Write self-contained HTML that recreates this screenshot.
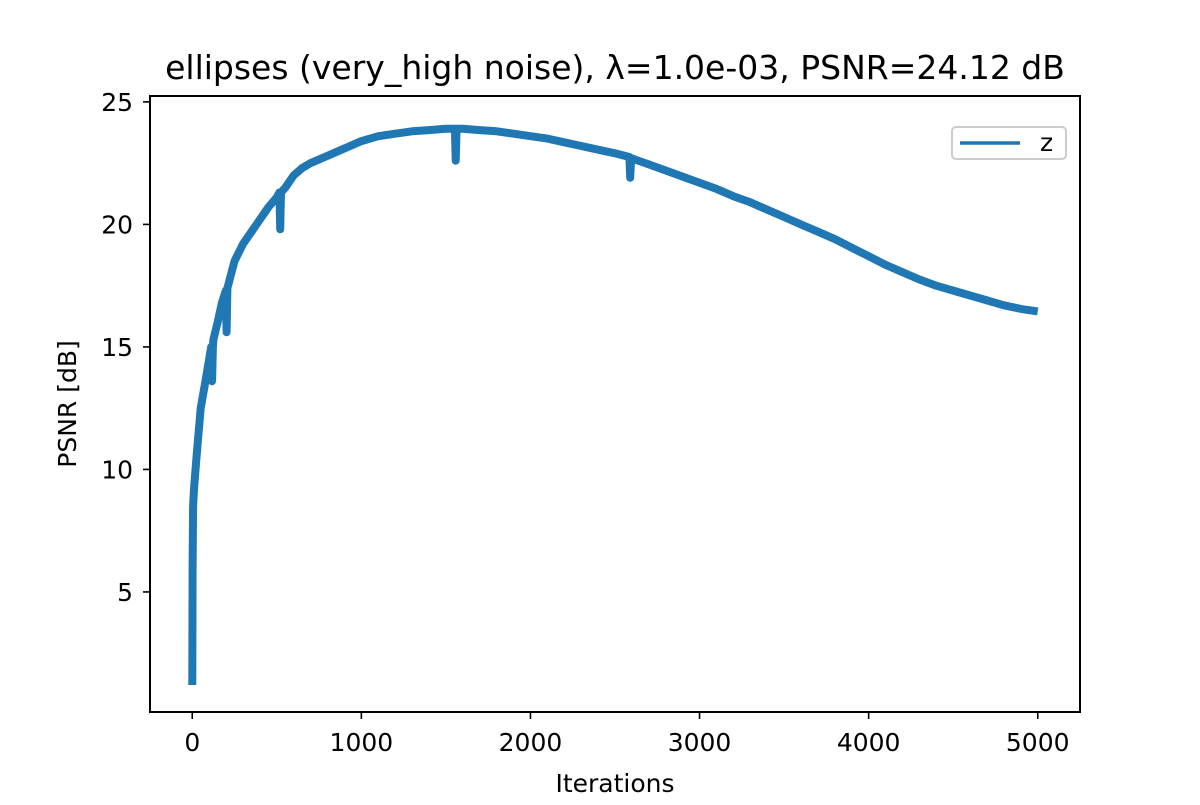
<!DOCTYPE html>
<html><head><meta charset="utf-8"><style>
body{margin:0;background:#fff;}
svg text{font-family:"DejaVu Sans","Liberation Sans",sans-serif;fill:#000;}
</style></head><body>
<svg width="1200" height="800" viewBox="0 0 1200 800" id="chart">
<rect width="1200" height="800" fill="#fff"/>
<text x="615" y="79" font-size="33" text-anchor="middle">ellipses (very_high noise), λ=1.0e-03, PSNR=24.12 dB</text>
<g id="plot"></g>
<rect x="150" y="96" width="930" height="616" fill="none" stroke="#000" stroke-width="2"/>
<text x="615" y="792" font-size="25" text-anchor="middle">Iterations</text>
<text transform="translate(76,404) rotate(-90)" font-size="25" text-anchor="middle">PSNR [dB]</text>
<g>
<rect x="952" y="127" width="114" height="32" rx="4" fill="#fff" stroke="#ccc" stroke-width="2"/>
<line x1="960" y1="143" x2="1020" y2="143" stroke="#1f77b4" stroke-width="3.5"/>
<text x="1040" y="151" font-size="25">z</text>
</g>
</svg>
<script>
const iters=[0,2,5,10,25,50,75,100,112,117,122,125,150,175,198,203,208,250,300,350,400,450,500,515,520,525,550,600,650,700,800,900,1000,1100,1200,1300,1400,1500,1553,1558,1563,1600,1700,1800,1900,2000,2100,2200,2300,2400,2500,2585,2590,2595,2700,2800,2900,3000,3100,3200,3300,3400,3500,3600,3700,3800,3900,4000,4100,4200,4300,4400,4500,4600,4700,4800,4900,5000];
const psnr=[1.2,6,8.5,9.2,10.5,12.5,13.5,14.5,15,13.6,15,15.3,16,16.8,17.3,15.6,17.4,18.5,19.2,19.7,20.2,20.7,21.1,21.3,19.8,21.3,21.5,22,22.3,22.5,22.8,23.1,23.4,23.6,23.7,23.8,23.85,23.9,23.9,22.6,23.9,23.9,23.85,23.8,23.7,23.6,23.5,23.35,23.2,23.05,22.9,22.75,21.9,22.7,22.45,22.2,21.95,21.7,21.45,21.15,20.9,20.6,20.3,20.0,19.7,19.4,19.05,18.7,18.35,18.05,17.75,17.5,17.3,17.1,16.9,16.7,16.55,16.45];
const xTicks=[0,1000,2000,3000,4000,5000];
const yTicks=[5,10,15,20,25];
const NS="http://www.w3.org/2000/svg";
const X=v=>150+(v+250)*930/5500;
const Y=v=>712-(v-0.1)*616/25.14;
const svg=document.getElementById('chart');
const plot=document.getElementById('plot');
let d=iters.map((t,i)=>(i?'L':'M')+X(t).toFixed(1)+','+Y(psnr[i]).toFixed(1)).join(' ');
const p=document.createElementNS(NS,'path');
p.setAttribute('d',d);p.setAttribute('fill','none');p.setAttribute('stroke','#1f77b4');
p.setAttribute('stroke-width','8');p.setAttribute('stroke-linejoin','round');


plot.appendChild(p);
xTicks.forEach(t=>{
 const l=document.createElementNS(NS,'line');
 l.setAttribute('x1',X(t));l.setAttribute('x2',X(t));l.setAttribute('y1',712);l.setAttribute('y2',719);l.setAttribute('stroke','#000');l.setAttribute('stroke-width','1.6');
 
 
 svg.appendChild(l);
 const tx=document.createElementNS(NS,'text');
 tx.setAttribute('x',X(t));tx.setAttribute('y',751);tx.setAttribute('font-size','25');tx.setAttribute('text-anchor','middle');
 tx.textContent=t;
 
 
 svg.appendChild(tx);
});
yTicks.forEach(t=>{
 const l=document.createElementNS(NS,'line');
 l.setAttribute('x1',143);l.setAttribute('x2',150);l.setAttribute('y1',Y(t));l.setAttribute('y2',Y(t));l.setAttribute('stroke','#000');l.setAttribute('stroke-width','1.6');
 
 
 svg.appendChild(l);
 const tx=document.createElementNS(NS,'text');
 tx.setAttribute('x',133);tx.setAttribute('y',Y(t)+9);tx.setAttribute('font-size','25');tx.setAttribute('text-anchor','end');
 tx.textContent=t;
 
 
 svg.appendChild(tx);
});
</script>
</body></html>
